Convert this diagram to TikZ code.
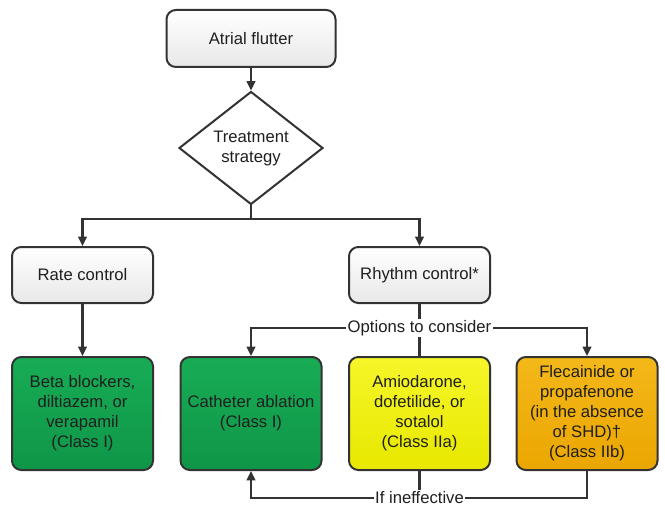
\documentclass[tikz,border=0pt]{standalone}
\usepackage{fontspec}
\setmainfont{Liberation Sans}
\usetikzlibrary{shapes.geometric,arrows.meta}
\definecolor{edge}{HTML}{333333}
\definecolor{grnT}{HTML}{18AC55}
\definecolor{grnB}{HTML}{0F9648}
\definecolor{ylwT}{HTML}{F6F62A}
\definecolor{ylwB}{HTML}{E8E800}
\definecolor{orgT}{HTML}{F4B81A}
\definecolor{orgB}{HTML}{EBA600}
\begin{document}
\begin{tikzpicture}[x=0.75pt,y=-0.75pt,
  font=\fontsize{12.5}{15}\selectfont,
  box/.style={draw=edge, line width=1.5pt, rounded corners=7pt, align=center, inner sep=2pt, text=black!88},
  greybox/.style={box, top color=white, bottom color=black!9, minimum width=105.75pt, minimum height=42pt},
  drugbox/.style={box, minimum width=105.75pt, minimum height=84.75pt},
  conn/.style={draw=edge, line width=1.6pt},
  arr/.style={conn, -{Triangle[length=7pt,width=6.5pt]}},
  lbl/.style={fill=white, inner sep=1pt, text=black!88}
]
\useasboundingbox (0,0) rectangle (665,517);

\node[greybox, minimum width=126.75pt, minimum height=42.75pt] (top) at (251,38.5) {Atrial flutter};
\node[draw=edge, line width=1.5pt, fill=white, diamond, aspect=1.27, minimum width=108pt, minimum height=84.75pt, inner sep=0pt, align=center, text=black!88] (diam) at (251,148) {Treatment\\strategy};
\node[greybox] (rate) at (82.5,275) {Rate control};
\node[greybox] (rhythm) at (419.5,275) {Rhythm control*};

\node[drugbox, top color=grnT, bottom color=grnB] (beta) at (82.5,413.5) {Beta blockers,\\diltiazem, or\\verapamil\\(Class I)};
\node[drugbox, top color=grnT, bottom color=grnB] (cath) at (251,413.5) {Catheter ablation\\(Class I)};
\node[drugbox, top color=ylwT, bottom color=ylwB] (amio) at (419.5,413.5) {Amiodarone,\\dofetilide, or\\sotalol\\(Class IIa)};
\node[drugbox, top color=orgT, bottom color=orgB] (flec) at (587,413.5) {Flecainide or\\propafenone\\(in the absence\\of SHD)†\\(Class IIb)};

\coordinate (split) at (251,219);
\draw[arr] (top) -- (diam);
\draw[conn] (diam.south) -- (split);
\draw[arr] (split) -| (rate.north);
\draw[arr] (split) -| (rhythm.north);
\draw[arr] (rate) -- (beta);

\node[lbl] (opt) at (419.5,328) {Options to consider};
\draw[conn] (rhythm.south) -- (opt.north);
\draw[conn] (opt.south) -- (amio.north);
\draw[arr] (opt.west) -| (cath.north);
\draw[arr] (opt.east) -| (flec.north);

\node[lbl] (ineff) at (419.5,498) {If ineffective};
\draw[conn] (amio.south) -- (ineff.north);
\draw[conn] (flec.south) |- (ineff.east);
\draw[arr] (ineff.west) -| (cath.south);
\end{tikzpicture}
\end{document}
